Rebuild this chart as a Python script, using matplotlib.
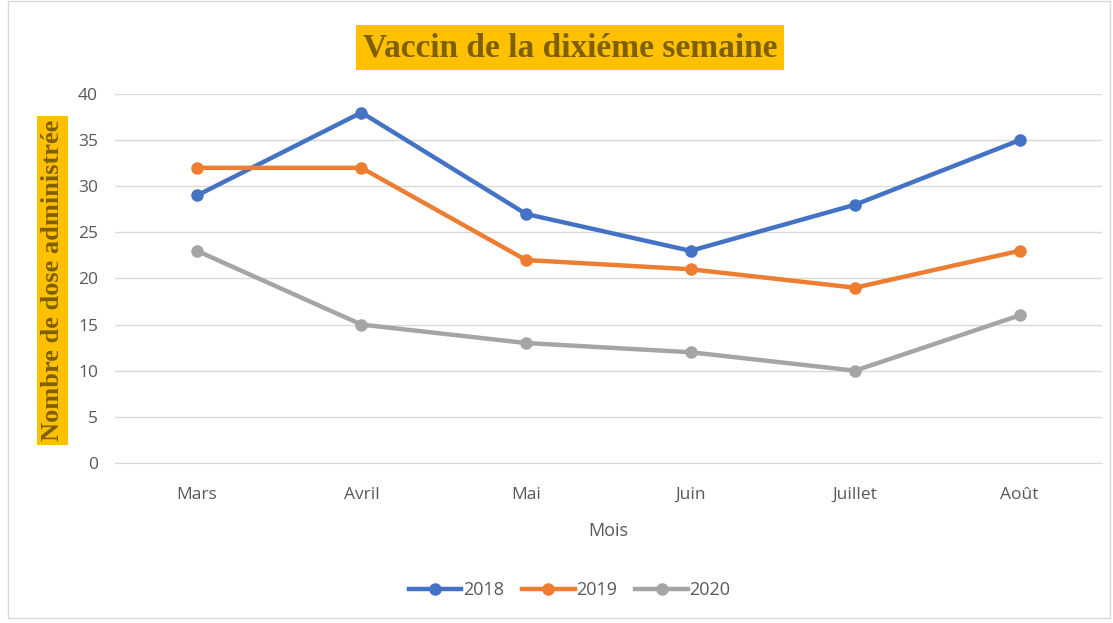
import matplotlib.pyplot as plt
from matplotlib.patches import Rectangle

mois = ['Mars', 'Avril', 'Mai', 'Juin', 'Juillet', 'Août']
v2018 = [29, 38, 27, 23, 28, 35]
v2019 = [32, 32, 22, 21, 19, 23]
v2020 = [23, 15, 13, 12, 10, 16]

fig = plt.figure(figsize=(11.13, 6.23), dpi=100)
ax = fig.add_axes([0.103, 0.257, 0.887, 0.592])

x = range(len(mois))
ax.plot(x, v2018, color='#4472C4', lw=3.2, marker='o', ms=8, label='2018')
ax.plot(x, v2019, color='#ED7D31', lw=3.2, marker='o', ms=8, label='2019')
ax.plot(x, v2020, color='#A5A5A5', lw=3.2, marker='o', ms=8, label='2020')

ax.set_xlim(-0.5, len(mois) - 0.5)
ax.set_ylim(0, 40)
ax.set_yticks(range(0, 41, 5))
ax.set_xticks(list(x))
ax.set_xticklabels(mois)
ax.tick_params(length=0, labelsize=12.5, labelcolor='#595959')
ax.tick_params(axis='x', pad=17)
ax.tick_params(axis='y', pad=12)
for lab in ax.get_xticklabels() + ax.get_yticklabels():
    lab.set_family('Open Sans')
ax.grid(axis='y', color='#D9D9D9', lw=1)
ax.set_axisbelow(True)
for s in ['top', 'right', 'left']:
    ax.spines[s].set_visible(False)
ax.spines['bottom'].set_color('#D9D9D9')

ax.set_xlabel('Mois', fontsize=13, color='#595959', family='Open Sans', labelpad=14)

fig.text(0.512, 0.923, 'Vaccin de la dixiéme semaine', ha='center', va='center',
         family='Liberation Serif', fontweight='bold', fontsize=24, color='#7F6000',
         bbox=dict(facecolor='#FFC000', edgecolor='none', pad=5))
fig.text(0.047, 0.55, 'Nombre de dose administrée', ha='center', va='center', rotation=90,
         family='Liberation Serif', fontweight='bold', fontsize=19, color='#7F6000',
         bbox=dict(facecolor='#FFC000', edgecolor='none', pad=3))

fig.legend(loc='center', bbox_to_anchor=(0.512, 0.053), ncol=3, frameon=False,
           prop={'family': 'Open Sans', 'size': 13}, labelcolor='#595959',
           handlelength=2.9, columnspacing=1.0, handletextpad=0.1)

fig.patches.append(Rectangle((0.007, 0.008), 0.99, 0.99, transform=fig.transFigure,
                             fill=False, edgecolor='#D9D9D9', lw=1))

plt.savefig('out.png', dpi=100)
